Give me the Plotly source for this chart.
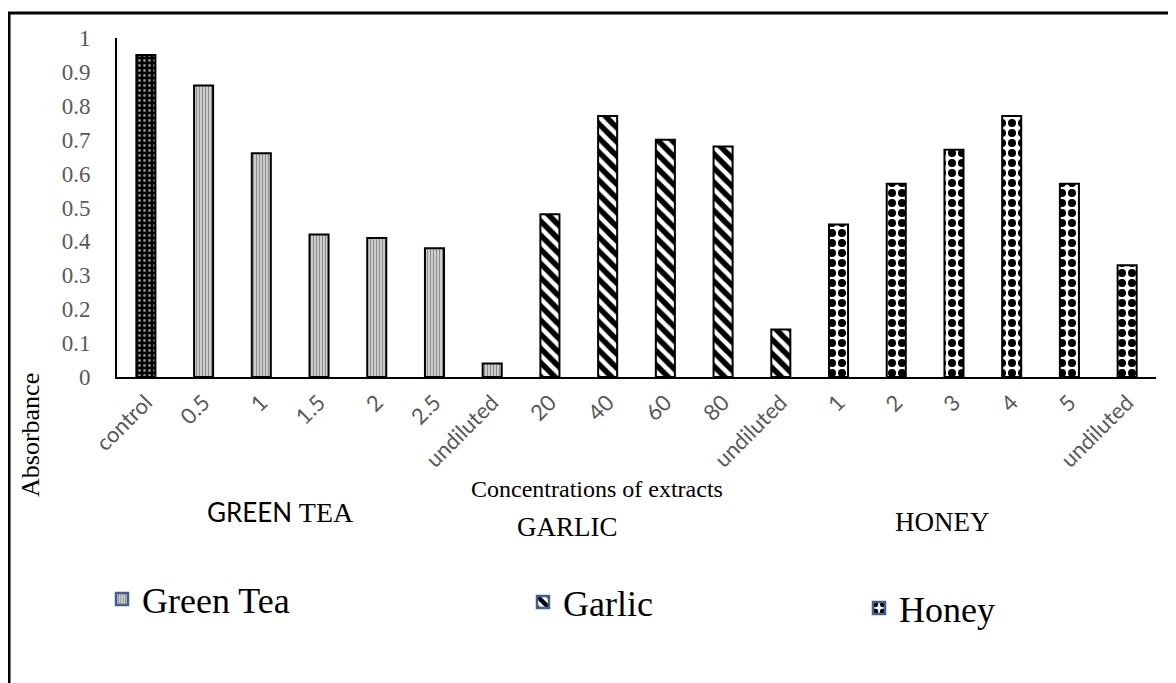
import plotly.graph_objects as go

# Absorbance readings per extract and concentration
control_label = ["control"]
control_abs = [0.95]

green_tea_conc = ["0.5", "1", "1.5", "2", "2.5", "undiluted"]
green_tea_abs = [0.86, 0.66, 0.42, 0.41, 0.38, 0.04]

garlic_conc = ["20", "40", "60", "80", "undiluted"]
garlic_abs = [0.48, 0.77, 0.70, 0.68, 0.14]

honey_conc = ["1", "2", "3", "4", "5", "undiluted"]
honey_abs = [0.45, 0.57, 0.67, 0.77, 0.57, 0.33]

SERIF = "Liberation Serif, Times New Roman, serif"
SANS = "Lato, Carlito, sans-serif"
GRAY = "#595959"
LEGEND_EDGE = "#41628f"

# the page body adds an 8px offset, so the figure is laid out 8px up/left
OFF = 8
L, T = 117 - OFF, 38 - OFF
R = 1176 - (1156 - OFF)
B = 683 - (377 - OFF)
W, H = 1176 - L - R, 683 - T - B


def px(x):
    # reference pixel -> paper x
    return (x - OFF - L) / W


def py(y):
    # reference pixel -> paper y
    return (683 - B - (y - OFF)) / H


groups = [control_label, green_tea_conc, garlic_conc, honey_conc]
tick_text = [c for g in groups for c in g]
positions = list(range(len(tick_text)))
starts = [0]
for g in groups[:-1]:
    starts.append(starts[-1] + len(g))

patterns = {
    "control": dict(shape=".", fgcolor="#8a8a8a", bgcolor="#000000", size=5, solidity=0.25, fgopacity=1),
    "Green Tea": dict(shape="|", fgcolor="#8c8c8c", bgcolor="#d4d4d4", size=3, solidity=0.4, fgopacity=1),
    "Garlic": dict(shape="\\", fgcolor="#000000", bgcolor="#ffffff", size=10, solidity=0.55, fgopacity=1),
    "Honey": dict(shape=".", fgcolor="#000000", bgcolor="#ffffff", size=10, solidity=0.5, fgopacity=1),
}

fig = go.Figure()
series = [
    ("control", control_abs),
    ("Green Tea", green_tea_abs),
    ("Garlic", garlic_abs),
    ("Honey", honey_abs),
]
for (name, vals), s in zip(series, starts):
    fig.add_trace(go.Bar(
        x=positions[s:s + len(vals)],
        y=vals,
        name=name,
        width=0.33,
        showlegend=False,
        marker=dict(pattern=patterns[name], line=dict(color="#000000", width=2)),
    ))

# legend-only entries, one legend each so they can sit where the original puts them
for name, leg in [("Green Tea", "legend"), ("Garlic", "legend2"), ("Honey", "legend3")]:
    fig.add_trace(go.Bar(
        x=[None], y=[None], name=name, legend=leg,
        marker=dict(pattern=patterns[name], line=dict(color=LEGEND_EDGE, width=2.5)),
    ))

leg_font = dict(family=SERIF, size=36, color="#000000")
fig.update_layout(
    width=1176, height=683,
    barmode="overlay",
    margin=dict(l=L, r=R, t=T, b=B, autoexpand=False),
    paper_bgcolor="white",
    plot_bgcolor="white",
    legend=dict(x=px(102), y=py(599), xanchor="left", yanchor="middle", font=leg_font, bgcolor="rgba(0,0,0,0)"),
    legend2=dict(x=px(523), y=py(602), xanchor="left", yanchor="middle", font=leg_font, bgcolor="rgba(0,0,0,0)"),
    legend3=dict(x=px(859), y=py(608), xanchor="left", yanchor="middle", font=leg_font, bgcolor="rgba(0,0,0,0)"),
    xaxis=dict(
        range=[-0.5, len(tick_text) - 0.5],
        tickvals=positions, ticktext=tick_text, tickangle=-45,
        tickfont=dict(family=SANS, size=22, color=GRAY),
        ticks="", ticklabelstandoff=2,
        showline=True, linecolor="#000000", linewidth=2,
        showgrid=False, zeroline=False,
    ),
    yaxis=dict(
        range=[0, 1], dtick=0.1, tickformat="~g",
        tickfont=dict(family=SERIF, size=23, color=GRAY),
        ticks="", ticklabelstandoff=20,
        showline=True, linecolor="#000000", linewidth=2,
        showgrid=False, zeroline=False,
    ),
    shapes=[dict(
        type="rect", xref="paper", yref="paper",
        x0=px(9), x1=px(1200), y0=py(720), y1=py(13),
        line=dict(color="#000000", width=3),
    )],
    annotations=[
        dict(text="Absorbance", x=px(30), y=py(435), textangle=-90,
             font=dict(family=SERIF, size=26, color="#000000")),
        dict(text="Concentrations of extracts", x=px(597), y=py(489),
             font=dict(family=SERIF, size=24, color="#000000")),
        dict(text="GREEN <span style='font-family:Liberation Serif;font-size:28px'>TEA</span>",
             x=px(280), y=py(512), font=dict(family=SANS, size=26, color="#000000")),
        dict(text="GARLIC", x=px(567), y=py(527),
             font=dict(family=SERIF, size=27, color="#000000")),
        dict(text="HONEY", x=px(942), y=py(522),
             font=dict(family=SERIF, size=27, color="#000000")),
    ],
)
for a in fig.layout.annotations:
    a.update(xref="paper", yref="paper", showarrow=False, xanchor="center", yanchor="middle")

fig.write_html("out.html")
